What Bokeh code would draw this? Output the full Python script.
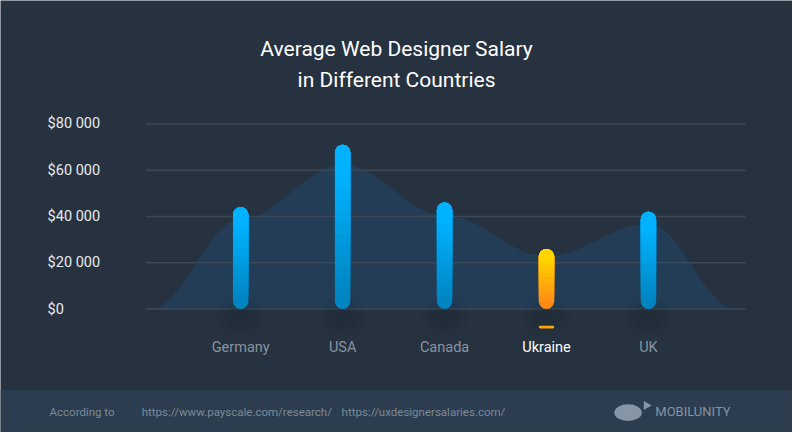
import numpy as np
from bokeh.plotting import figure
from bokeh.models import Range1d, BoxAnnotation
from bokeh.core.properties import value
from bokeh.embed import file_html
from bokeh.resources import INLINE

# ---- data ----
title_lines = ["Average Web Designer Salary", "in Different Countries"]
countries = ["Germany", "USA", "Canada", "Ukraine", "UK"]
salaries = [44000, 71000, 46000, 26000, 42000]
highlight = "Ukraine"
y_ticks = [0, 20000, 40000, 60000, 80000]
y_tick_labels = ["$0", "$20 000", "$40 000", "$60 000", "$80 000"]
footer_label = "According to"
sources = ["https://www.payscale.com/research/", "https://uxdesignersalaries.com/"]
brand = "MOBILUNITY"

# ---- style ----
BG = "#26323f"
FOOT = "#2b3d4f"
GRID = "#3c4855"
FONT = value("Roboto")
BLUE_TOP, BLUE_BOT = "#00b2ff", "#0085c2"
ORANGE_TOP, ORANGE_BOT = "#ffd500", "#ff8913"

xs = np.arange(len(countries), dtype=float)
vals = np.array(salaries, dtype=float)

p = figure(width=792, height=432,
           x_range=Range1d(-2.356, 5.413), y_range=Range1d(-53333, 133333),
           x_axis_location=None, y_axis_location=None,
           output_backend="svg", toolbar_location=None, min_border=0,
           background_fill_color=BG, border_fill_color=BG,
           outline_line_color=None)
p.grid.visible = False

# footer band
p.add_layout(BoxAnnotation(top=-35000, fill_color=FOOT, fill_alpha=1.0,
                           line_color=None, level="underlay"))

# soft background wave derived from the values
ax = np.concatenate([[-0.89], xs, [4.86]])
ay = np.concatenate([[0], vals * 0.88, [0]])
wx, wy = [], []
for i in range(len(ax) - 1):
    t = np.linspace(0, 1, 30, endpoint=False)
    s = (1 - np.cos(np.pi * t)) / 2
    wx.extend(ax[i] + (ax[i + 1] - ax[i]) * t)
    wy.extend(ay[i] + (ay[i + 1] - ay[i]) * s)
wx.append(ax[-1]); wy.append(ay[-1])
p.patch(wx, wy, fill_color="#1a5f9e", fill_alpha=0.24, line_color=None)

# grid lines
p.segment(x0=[-0.933] * len(y_ticks), x1=[4.952] * len(y_ticks),
          y0=y_ticks, y1=y_ticks, line_color=GRID, line_width=1.6)

# y tick labels
p.text(x=[-1.894] * len(y_ticks), y=y_ticks, text=y_tick_labels,
       text_font=FONT, text_font_size="14.5px", text_color="#e6eaee",
       text_align="left", text_baseline="middle")

# soft shadows below bars
for a, w, h in [(0.035, 0.46, 18000), (0.045, 0.34, 13000), (0.055, 0.22, 8000)]:
    p.ellipse(x=xs, y=[-3000] * len(xs), width=w, height=h,
              fill_color="#0b1118", fill_alpha=a, line_color=None)

def mix(c1, c2, t):
    a = [int(c1[i:i + 2], 16) for i in (1, 3, 5)]
    b = [int(c2[i:i + 2], 16) for i in (1, 3, 5)]
    return "#%02x%02x%02x" % tuple(round(a[j] + (b[j] - a[j]) * t) for j in range(3))

is_hl = [c == highlight for c in countries]
tops = [ORANGE_TOP if h else BLUE_TOP for h in is_hl]
bots = [ORANGE_BOT if h else BLUE_BOT for h in is_hl]

BW = 0.152
N = 12
p.vbar(x=xs, bottom=0, top=vals, width=BW, fill_color=bots,
       line_color=None, border_radius=8)
for k in range(1, N):
    t = k / (N - 1)
    frac = 0.12 + 0.68 * (k - 1) / (N - 2)
    cols = [mix(b, tp, t) for b, tp in zip(bots, tops)]
    p.vbar(x=xs, bottom=vals * frac, top=vals, width=BW * 0.985, fill_color=cols,
           line_color=None, border_radius=(8, 8, 0, 0))

# highlight marker under the highlighted country
hx = [xs[i] for i, h in enumerate(is_hl) if h]
p.vbar(x=hx, bottom=-8400, top=-7200, width=BW, fill_color="#ffa50a",
       line_color=None, border_radius=2)

# category labels
p.text(x=xs, y=[-16667] * len(xs), text=countries, text_font=FONT,
       text_font_size="14.5px",
       text_color=["#ffffff" if h else "#8893a0" for h in is_hl],
       text_align="center", text_baseline="middle")

# title
p.text(x=[1.529, 1.529], y=[112500, 99167], text=title_lines, text_font=FONT,
       text_font_size="21px", text_color="#ffffff",
       text_align="center", text_baseline="middle")

# footer texts
FY = -44458
p.text(x=[-1.875, -0.971, 0.990], y=[FY] * 3, text=[footer_label] + sources,
       text_font=FONT, text_font_size="11.5px", text_color="#7b8a99",
       text_align="left", text_baseline="middle")

# brand logo (simple whale shape) and name
p.ellipse(x=[3.80], y=[FY - 300], width=0.27, height=7200,
          fill_color="#8796a6", line_color=None)
p.scatter(x=[3.98], y=[FY + 2800], marker="triangle", size=9, angle=0.5,
          fill_color="#8796a6", line_color=None)
p.text(x=[4.067], y=[FY], text=[brand], text_font=FONT,
       text_font_size="13px", text_color="#8595a5",
       text_align="left", text_baseline="middle")

open("out.html", "w").write(file_html(p, INLINE))
